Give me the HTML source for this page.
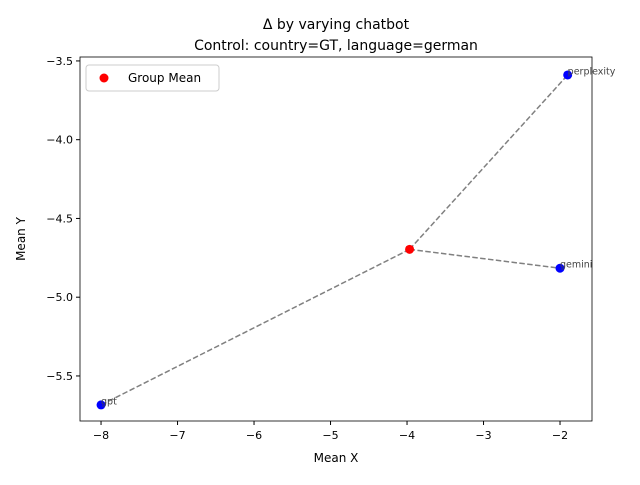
<!DOCTYPE html>
<html><head><meta charset="utf-8"><style>
body{margin:0;background:#fff;font-family:"Liberation Sans","DejaVu Sans",sans-serif;}
svg text{font-family:"DejaVu Sans","Liberation Sans",sans-serif;}
</style></head><body>
<svg id="chart" width="640" height="480" xmlns="http://www.w3.org/2000/svg">
<rect width="640" height="480" fill="#fff"/>
<text x="336" y="29" text-anchor="middle" font-size="14">Δ by varying chatbot</text>
<text x="336" y="50" text-anchor="middle" font-size="14">Control: country=GT, language=german</text>
<g id="plot"></g>
</svg>
<script>
const labels = ["gpt","gemini","perplexity"];
const xs = [-8.0, -2.0, -1.9];
const ys = [-5.684, -4.816, -3.589];
const xTicks = [-8,-7,-6,-5,-4,-3,-2];
const yTicks = [-3.5,-4.0,-4.5,-5.0,-5.5];
const L=80,R=592,T=57,B=421;
const xmin=-8.275,xmax=-1.582,ymin=-5.786,ymax=-3.475;
const sx=v=>L+(v-xmin)/(xmax-xmin)*(R-L);
const sy=v=>B-(v-ymin)/(ymax-ymin)*(B-T);
const NS="http://www.w3.org/2000/svg";
const g=document.getElementById('plot');
function mk(t,a,txt){const e=document.createElementNS(NS,t);for(const k in a)e.setAttribute(k,a[k]);if(txt!==undefined)e.textContent=txt;g.appendChild(e);return e;}
const fmt=v=>(v<0?"\u2212":"")+Math.abs(v).toFixed(Number.isInteger(v)&&xTicks.includes(v)?0:1);
xTicks.forEach(v=>{const x=sx(v);
 const t=mk('line',{x1:x,x2:x,y1:B,y2:B+4,stroke:'#000'});
 
 
 const l=mk('text',{x:x,y:B+18,'text-anchor':'middle','font-size':'11'},(v<0?"\u2212":"")+Math.abs(v));
 
 
});
yTicks.forEach(v=>{const y=sy(v);
 const t=mk('line',{x1:L-4,x2:L,y1:y,y2:y,stroke:'#000'});
 
 
 const l=mk('text',{x:L-7,y:y+4,'text-anchor':'end','font-size':'11'},"\u2212"+Math.abs(v).toFixed(1));
 
 
});
const mx=xs.reduce((a,b)=>a+b,0)/xs.length, my=ys.reduce((a,b)=>a+b,0)/ys.length;
labels.forEach((n,i)=>{
 const ln=mk('line',{x1:sx(mx),y1:sy(my),x2:sx(xs[i]),y2:sy(ys[i]),stroke:'#808080','stroke-width':1.5,'stroke-dasharray':'5.5,2.4'});
 
 
});
labels.forEach((n,i)=>{
 const c=mk('circle',{cx:sx(xs[i]),cy:sy(ys[i]),r:4.5,fill:'#0000ff'});
 
 
 const t=mk('text',{x:sx(xs[i]),y:sy(ys[i])-0.5,'font-size':'9.5',fill:'#444'},n);
 
 
});
const m=mk('circle',{cx:sx(mx),cy:sy(my),r:4.5,fill:'#ff0000'});


const fr=mk('rect',{x:L,y:T,width:R-L,height:B-T,fill:'none',stroke:'#000','stroke-width':0.8});


const xl=mk('text',{x:(L+R)/2,y:462,'text-anchor':'middle','font-size':'12'},'Mean X');


const yl=mk('text',{x:25,y:(T+B)/2,'text-anchor':'middle','font-size':'12',transform:`rotate(-90 25 ${(T+B)/2})`},'Mean Y');


const lg=mk('rect',{x:86,y:65,width:133,height:26,rx:3,fill:'#fff',stroke:'#ccc'});


const lc=mk('circle',{cx:104,cy:78,r:4.5,fill:'#ff0000'});


const lt=mk('text',{x:128,y:82,'font-size':'12'},'Group Mean');


</script>
</body></html>
